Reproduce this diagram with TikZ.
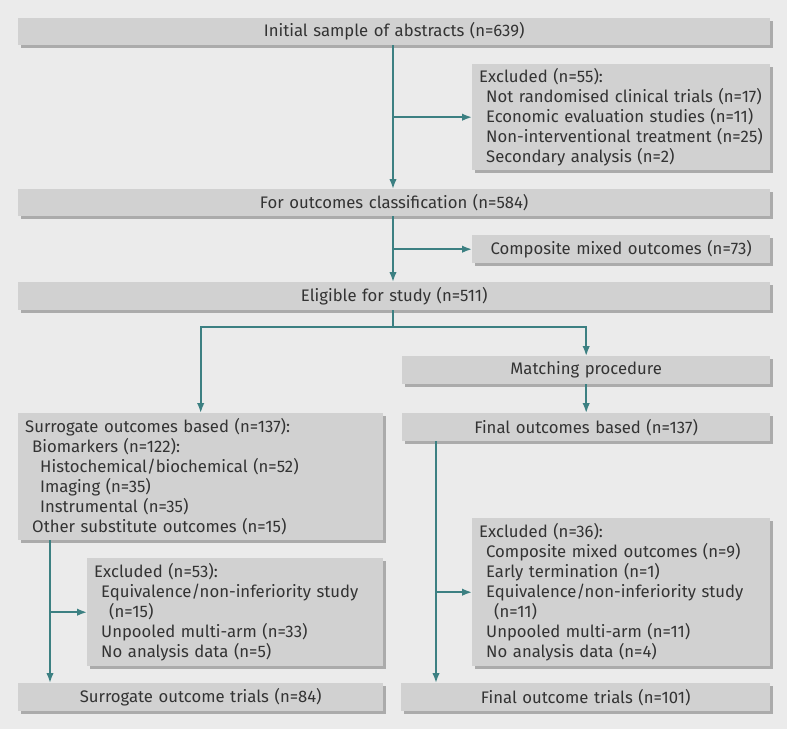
\documentclass[tikz,border=0pt]{standalone}
\usepackage{fontspec}
\setmainfont{Fira Sans}
\usetikzlibrary{arrows.meta,shadows,positioning,calc}
\definecolor{bgc}{HTML}{EBEBEB}
\definecolor{boxc}{HTML}{D1D1D1}
\definecolor{shc}{HTML}{ABABAB}
\definecolor{tealc}{HTML}{3C8082}
\definecolor{txtc}{HTML}{333333}
\tikzset{
  boxc/.style={fill=boxc, draw=none, inner xsep=7pt, inner ysep=0pt, text=txtc,
    font=\fontsize{16.7}{20}\selectfont,
    drop shadow={shadow xshift=2.5pt, shadow yshift=-2.5pt, fill=shc, opacity=1}},
  arr/.style={draw=tealc, line width=1.8pt, -{Latex[length=10pt,width=7.5pt]}},
  ln/.style={draw=tealc, line width=1.8pt},
}
\begin{document}
\begin{tikzpicture}[x=1pt,y=-1pt]
\fill[bgc] (0,0) rectangle (787,729);
\useasboundingbox (0,0) rectangle (787,729);
\node[boxc, anchor=north west, text width=752pt-14pt, minimum height=27pt, align=center] (n1) at (18,18) {Initial sample of abstracts (n=639)};
\node[boxc, anchor=north west, text width=298pt-14pt, minimum height=106pt, align=left] (ex1) at (472,64) {Excluded (n=55):\\\hspace*{7pt}Not randomised clinical trials (n=17)\\\hspace*{7pt}Economic evaluation studies (n=11)\\\hspace*{7pt}Non-interventional treatment (n=25)\\\hspace*{7pt}Secondary analysis (n=2)};
\node[boxc, anchor=north west, text width=752pt-14pt, minimum height=27pt, align=center] (n2) at (18,189) {For outcomes classification (n=584)};
\node[boxc, anchor=north west, text width=298pt-14pt, minimum height=28pt, align=center] (comp) at (472,235) {Composite mixed outcomes (n=73)};
\node[boxc, anchor=north west, text width=752pt-14pt, minimum height=28pt, align=center] (n3) at (18,282) {Eligible for study (n=511)};
\node[boxc, anchor=north west, text width=368pt-14pt, minimum height=28pt, align=center] (match) at (402,356) {Matching procedure};
\node[boxc, anchor=north west, text width=368pt-14pt, minimum height=28pt, align=center] (final) at (402,413) {Final outcomes based (n=137)};
\node[boxc, anchor=north west, text width=365pt-14pt, minimum height=127pt, align=left] (surr) at (18,413) {Surrogate outcomes based (n=137):\\\hspace*{7pt}Biomarkers (n=122):\\\hspace*{15pt}Histochemical/biochemical (n=52)\\\hspace*{15pt}Imaging (n=35)\\\hspace*{15pt}Instrumental (n=35)\\\hspace*{7pt}Other substitute outcomes (n=15)};
\node[boxc, anchor=north west, text width=296pt-14pt, minimum height=108pt, align=left] (ex2) at (87,558) {Excluded (n=53):\\\hspace*{7pt}Equivalence/non-inferiority study\\\hspace*{15pt}(n=15)\\\hspace*{7pt}Unpooled multi-arm (n=33)\\\hspace*{7pt}No analysis data (n=5)};
\node[boxc, anchor=north west, text width=298pt-14pt, minimum height=148pt, align=left] (ex3) at (472,518) {Excluded (n=36):\\\hspace*{7pt}Composite mixed outcomes (n=9)\\\hspace*{7pt}Early termination (n=1)\\\hspace*{7pt}Equivalence/non-inferiority study\\\hspace*{15pt}(n=11)\\\hspace*{7pt}Unpooled multi-arm (n=11)\\\hspace*{7pt}No analysis data (n=4)};
\node[boxc, anchor=north west, text width=365pt-14pt, minimum height=28pt, align=center] (st) at (18,683) {Surrogate outcome trials (n=84)};
\node[boxc, anchor=north west, text width=369pt-14pt, minimum height=28pt, align=center] (ft) at (401,683) {Final outcome trials (n=101)};
% connectors
\coordinate (t1) at (393,0);
\draw[arr] (t1 |- n1.south) -- (t1 |- n2.north);
\draw[arr] (t1 |- ex1.west) -- (ex1.west);
\draw[arr] (t1 |- n2.south) -- (t1 |- n3.north);
\draw[arr] (t1 |- comp.west) -- (comp.west);
\coordinate (sp) at (393,327);
\draw[ln] (t1 |- n3.south) -- (sp);
\draw[arr] (sp) -| (surr.north);
\draw[arr] (sp) -| (match.north);
\draw[arr] (match.south) -- (final.north);
\coordinate (lx) at (50,0);
\draw[arr] (lx |- surr.south) -- (lx |- st.north);
\draw[arr] (lx |- ex2.west) -- (ex2.west);
\coordinate (rx) at (436,0);
\draw[arr] (rx |- final.south) -- (rx |- ft.north);
\draw[arr] (rx |- ex3.west) -- (ex3.west);
\end{tikzpicture}
\end{document}
